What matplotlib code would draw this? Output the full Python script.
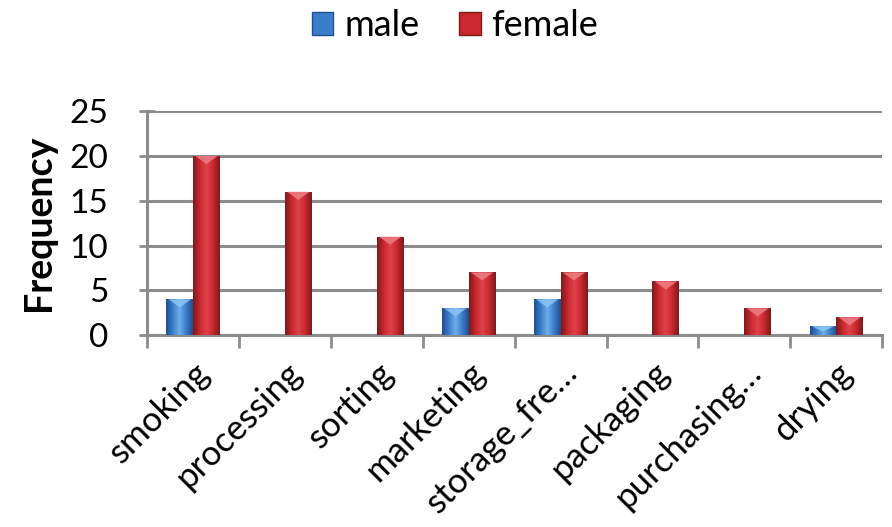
import numpy as np
import matplotlib
matplotlib.use("Agg")
import matplotlib.pyplot as plt
from matplotlib.colors import LinearSegmentedColormap
from matplotlib.patches import Polygon, Patch

categories = ["smoking", "processing", "sorting", "marketing",
              "storage_fre…", "packaging", "purchasing…", "drying"]
male = [4, 0, 0, 3, 4, 0, 0, 1]
female = [20, 16, 11, 7, 7, 6, 3, 2]
y_ticks = [0, 5, 10, 15, 20, 25]

plt.rcParams["font.family"] = ["Lato", "DejaVu Sans"]

fig = plt.figure(figsize=(8.92, 5.27), dpi=100)
ax = fig.add_axes([0.165, 0.364, 0.824, 0.425])

x = np.arange(len(categories))
width = 0.29

styles = {
    "male": dict(base="#3A7DC9", dark="#1F4F8F", light="#6FAEEB", tri="#8CC4F5"),
    "female": dict(base="#C9282E", dark="#7E1A1C", light="#E0434A", tri="#EE7E84"),
}


def shade_bars(bars, st):
    cmap = LinearSegmentedColormap.from_list(
        "bevel", [st["dark"], st["base"], st["light"], st["base"], st["dark"]])
    grad = np.linspace(0, 1, 64).reshape(1, -1)
    for b in bars:
        h = b.get_height()
        if h <= 0:
            b.set_visible(False)
            continue
        x0, w = b.get_x(), b.get_width()
        im = ax.imshow(grad, cmap=cmap, aspect="auto",
                       extent=(x0, x0 + w, 0, h), zorder=3, interpolation="bicubic")
        im.set_clip_path(b)
        # bevel highlight at the top of each bar
        th = min(0.9, h * 0.6)
        tri = Polygon([(x0 + 0.08 * w, h), (x0 + 0.92 * w, h), (x0 + w / 2, h - th)],
                      closed=True, facecolor=st["tri"], edgecolor="none",
                      alpha=0.85, zorder=4)
        ax.add_patch(tri)


bm = ax.bar(x - width / 2, male, width, color=styles["male"]["base"],
            edgecolor="none", zorder=2)
bf = ax.bar(x + width / 2, female, width, color=styles["female"]["base"],
            edgecolor="none", zorder=2)
shade_bars(bm, styles["male"])
shade_bars(bf, styles["female"])

ax.set_xlim(-0.5, len(categories) - 0.5)
ax.set_ylim(0, 25)
ax.set_yticks(y_ticks)
ax.set_yticklabels([str(t) for t in y_ticks], fontsize=24)
ax.yaxis.grid(True, color="#8C8C8C", linewidth=2.2, zorder=0)
ax.set_axisbelow(True)

ax.set_xticks(x)
ax.set_xticklabels(categories, rotation=45, ha="right", rotation_mode="anchor",
                   fontsize=25)
ax.set_xticks(np.arange(len(categories) + 1) - 0.5, minor=True)
ax.tick_params(axis="x", which="major", length=0, pad=15)
ax.tick_params(axis="x", which="minor", length=9, width=2, color="#8C8C8C")
ax.tick_params(axis="y", length=12, width=2, color="#8C8C8C", direction="inout",
               pad=22)

for side in ["top", "right"]:
    ax.spines[side].set_visible(False)
for side in ["left", "bottom"]:
    ax.spines[side].set_color("#8C8C8C")
    ax.spines[side].set_linewidth(2.2)

ax.set_ylabel("Frequency", fontsize=27, fontweight="bold", labelpad=10)

handles = [Patch(facecolor=styles["male"]["base"], edgecolor=styles["male"]["dark"]),
           Patch(facecolor=styles["female"]["base"], edgecolor=styles["female"]["dark"])]
fig.legend(handles, ["male", "female"], loc="upper center",
           bbox_to_anchor=(0.51, 1.045), ncol=2, frameon=False, fontsize=26,
           handlelength=0.6, handleheight=0.6, handletextpad=0.3, columnspacing=1.1)

fig.savefig("out.png", dpi=100)
